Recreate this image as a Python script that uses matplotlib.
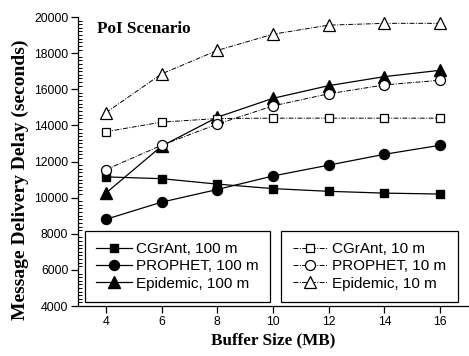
import numpy as np
import matplotlib.pyplot as plt
from matplotlib.ticker import MultipleLocator

# Tamanho do buffer (MB)
buffer_mb = [4, 6, 8, 10, 12, 14, 16]

# Atraso médio de entrega (s), alcance de 100 m
cgrant_100 = [11150, 11050, 10750, 10500, 10350, 10250, 10200]
prophet_100 = [8800, 9750, 10450, 11200, 11800, 12400, 12900]
epidemic_100 = [10250, 12850, 14450, 15500, 16200, 16700, 17050]

# Atraso médio de entrega (s), alcance de 10 m
cgrant_10 = [13650, 14180, 14380, 14400, 14400, 14400, 14400]
prophet_10 = [11550, 12900, 14070, 15080, 15750, 16240, 16500]
epidemic_10 = [14700, 16850, 18150, 19050, 19550, 19650, 19650]

plt.rcParams['font.family'] = ['Liberation Sans', 'DejaVu Sans']

fig = plt.figure(figsize=(4.69, 3.56), dpi=100)
ax = fig.add_axes([0.1663, 0.1404, 0.8316, 0.8118])

traco = (0, (5, 1.5, 1, 1.5))
sol = dict(color='black', lw=0.9, markerfacecolor='black', markeredgecolor='black')
tr = dict(color='black', lw=0.7, linestyle=traco, markerfacecolor='white',
          markeredgecolor='black', markeredgewidth=0.9)

h1, = ax.plot(buffer_mb, cgrant_100, marker='s', ms=6.3, label='CGrAnt, 100 m', **sol)
h2, = ax.plot(buffer_mb, prophet_100, marker='o', ms=7.2, label='PROPHET, 100 m', **sol)
h3, = ax.plot(buffer_mb, epidemic_100, marker='^', ms=8.5, label='Epidemic, 100 m', **sol)
h4, = ax.plot(buffer_mb, cgrant_10, marker='s', ms=6.3, label='CGrAnt, 10 m', **tr)
h5, = ax.plot(buffer_mb, prophet_10, marker='o', ms=7.2, label='PROPHET, 10 m', **tr)
h6, = ax.plot(buffer_mb, epidemic_10, marker='^', ms=8.5, label='Epidemic, 10 m', **tr)

ax.set_xlim(3, 17)
ax.set_ylim(4000, 20000)
ax.set_xticks(buffer_mb)
ax.yaxis.set_major_locator(MultipleLocator(2000))
ax.yaxis.set_minor_locator(MultipleLocator(200))
ax.tick_params(axis='both', which='major', direction='out', length=5, width=0.9,
               labelsize=8.8, pad=2)
ax.tick_params(axis='y', which='minor', direction='in', length=3, width=0.7)
ax.spines['top'].set_visible(False)
ax.spines['right'].set_visible(False)
ax.spines['left'].set_linewidth(0.9)
ax.spines['bottom'].set_linewidth(0.9)

serif = ['Liberation Serif', 'DejaVu Serif']
ax.text(0.048, 0.985, 'PoI Scenario', transform=ax.transAxes, family=serif,
        fontweight='bold', fontsize=12.3, va='top', ha='left')
ax.set_xlabel('Buffer Size (MB)', family=serif, fontweight='bold', fontsize=12.3, labelpad=3)
fig.text(0.043, 0.495, 'Message Delivery Delay (seconds)', family=serif,
         fontweight='bold', fontsize=14, rotation=90, ha='center', va='center')

leg_kw = dict(fontsize=11, frameon=True, fancybox=False, framealpha=1,
              edgecolor='black', handlelength=2.3, handletextpad=0.3,
              labelspacing=0.2, borderpad=0.75, borderaxespad=0)
leg1 = ax.legend(handles=[h1, h2, h3], loc='lower left',
                 bbox_to_anchor=(0.018, 0.014), **leg_kw)
leg1.get_frame().set_linewidth(0.9)
ax.add_artist(leg1)
leg2 = ax.legend(handles=[h4, h5, h6], loc='lower right',
                 bbox_to_anchor=(0.974, 0.014), **leg_kw)
leg2.get_frame().set_linewidth(0.9)

fig.savefig('out.png', dpi=100)
